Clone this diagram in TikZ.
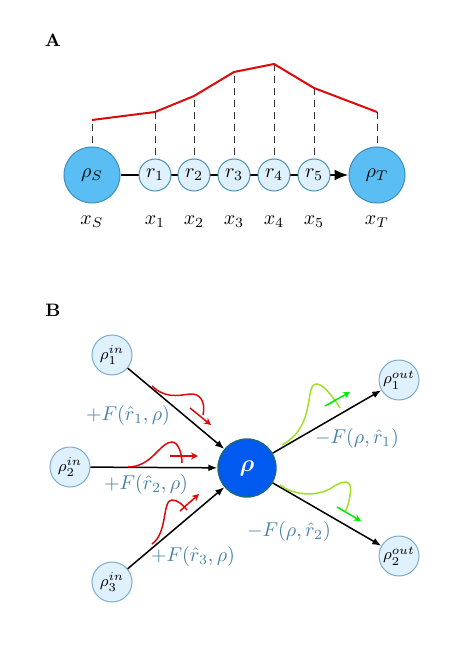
\documentclass[tikz,border=0pt]{standalone}
\usepackage{bm}
\usetikzlibrary{arrows.meta}
\definecolor{bigfill}{RGB}{90,190,245}
\definecolor{bigborder}{RGB}{60,140,185}
\definecolor{smallfill}{RGB}{222,241,252}
\definecolor{smallborder}{RGB}{75,145,180}
\definecolor{inborder}{RGB}{125,172,202}
\definecolor{cfill}{RGB}{0,90,240}
\definecolor{cborder}{RGB}{30,105,120}
\definecolor{labelblue}{RGB}{72,130,168}
\definecolor{wavered}{RGB}{220,10,10}
\definecolor{wavelime}{RGB}{160,225,40}
\definecolor{arrowgreen}{RGB}{0,235,0}
\begin{document}
\begin{tikzpicture}[x=0.5pt,y=-0.5pt,
  bignode/.style={circle,draw=bigborder,fill=bigfill,line width=0.5pt,minimum size=28pt,inner sep=0pt},
  rnode/.style={circle,draw=smallborder,fill=smallfill,line width=0.5pt,minimum size=16pt,inner sep=0pt},
  ionode/.style={circle,draw=inborder,fill=smallfill,line width=0.5pt,minimum size=20pt,inner sep=0pt,font=\footnotesize},
  cnode/.style={circle,draw=cborder,fill=cfill,line width=0.7pt,minimum size=29pt,inner sep=0pt,text=white,font=\large},
  panel/.style={font=\bfseries\small},
  guide/.style={dashed,dash pattern=on 3.5pt off 2.5pt,line width=0.5pt,black!80},
  profile/.style={wavered,line width=1pt},
  flow/.style={line width=0.75pt,-{Latex[length=4.5pt,width=3.5pt]}},
  flux/.style={text=labelblue},
  wave/.style={line width=0.75pt},
  tick/.style={line width=0.75pt,-{Stealth[length=3.5pt,width=3.5pt]}}
]
\useasboundingbox (0,0) rectangle (469,652);

% ---------- Panel A ----------
\node[panel] (A) at (53,40) {A};
\node[bignode] (S) at (92,175) {$\rho_S$};
\node[bignode] (T) at (377,175) {$\rho_T$};
\draw[line width=1.2pt,-{Latex[length=7pt,width=5.5pt]}] (S) -- (T);
\node[rnode] (r1) at (155,175) {$r_1$};
\node[rnode] (r2) at (194,175) {$r_2$};
\node[rnode] (r3) at (234,175) {$r_3$};
\node[rnode] (r4) at (274,175) {$r_4$};
\node[rnode] (r5) at (314,175) {$r_5$};

\coordinate (pS) at (92,120);
\coordinate (p1) at (155,112);
\coordinate (p2) at (194,96);
\coordinate (p3) at (234,72);
\coordinate (p4) at (274,64);
\coordinate (p5) at (314,88);
\coordinate (pT) at (377,112);

\foreach \n/\p in {S/pS,r1/p1,r2/p2,r3/p3,r4/p4,r5/p5,T/pT}
  \draw[guide,shorten <=1.5pt] (\n.north) -- (\p);
\draw[profile] (pS) -- (p1) -- (p2) -- (p3) -- (p4) -- (p5) -- (pT);

\node (xS) at (92,222) {$x_S$};
\node (x1) at (155,222) {$x_1$};
\node (x2) at (194,222) {$x_2$};
\node (x3) at (234,222) {$x_3$};
\node (x4) at (274,222) {$x_4$};
\node (x5) at (314,222) {$x_5$};
\node (xT) at (377,222) {$x_T$};

% ---------- Panel B ----------
\node[panel] (B) at (53,310) {B};
\node[cnode] (C) at (247,468) {$\bm{\rho}$};
\node[ionode] (i1) at (112,355) {$\rho^{in}_1$};
\node[ionode] (i2) at (70,467) {$\rho^{in}_2$};
\node[ionode] (i3) at (112,582) {$\rho^{in}_3$};
\node[ionode] (o1) at (399,380) {$\rho^{out}_1$};
\node[ionode] (o2) at (399,556) {$\rho^{out}_2$};

\draw[flow] (i1) -- (C);
\draw[flow] (i2) -- (C);
\draw[flow] (i3) -- (C);
\draw[flow] (C) -- (o1);
\draw[flow] (C) -- (o2);

\node[flux] (f1) at (128,415) {$+F(\hat r_1,\rho)$};
\node[flux] (f2) at (146,484) {$+F(\hat r_2,\rho)$};
\node[flux] (f3) at (193,556) {$+F(\hat r_3,\rho)$};
\node[flux] (g1) at (357,438) {$-F(\rho,\hat r_1)$};
\node[flux] (g2) at (289,531) {$-F(\rho,\hat r_2)$};

% incoming pulses
\draw[wave,wavered] (152,386) .. controls (165,398) and (176,396) .. (190,394)
  .. controls (200,393) and (206,402) .. (203,415);
\draw[tick,wavered] (190,408) -- (211,425);

\draw[wave,wavered] (128,467) .. controls (152,467) and (160,442) .. (172,442)
  .. controls (178,442) and (182,453) .. (182,463);
\draw[tick,wavered] (170,456) -- (198,456);

\draw[wave,wavered] (152,544) .. controls (168,533) and (162,500) .. (172,500)
  .. controls (178,500) and (183,505) .. (187,510);
\draw[tick,wavered] (180,511) -- (199,494);

% outgoing pulses
\draw[wave,wavelime] (282,445) .. controls (300,435) and (306,420) .. (309,400)
  .. controls (311,386) and (313,384) .. (317,384)
  .. controls (325,385) and (335,400) .. (340,408);
\draw[tick,arrowgreen] (325,406) -- (350,392);

\draw[wave,wavelime] (280,485) .. controls (295,496) and (318,497) .. (333,487)
  .. controls (345,479) and (353,480) .. (350,495)
  .. controls (349,503) and (347,508) .. (345,512);
\draw[tick,arrowgreen] (337,507) -- (361,521);
\end{tikzpicture}
\end{document}
